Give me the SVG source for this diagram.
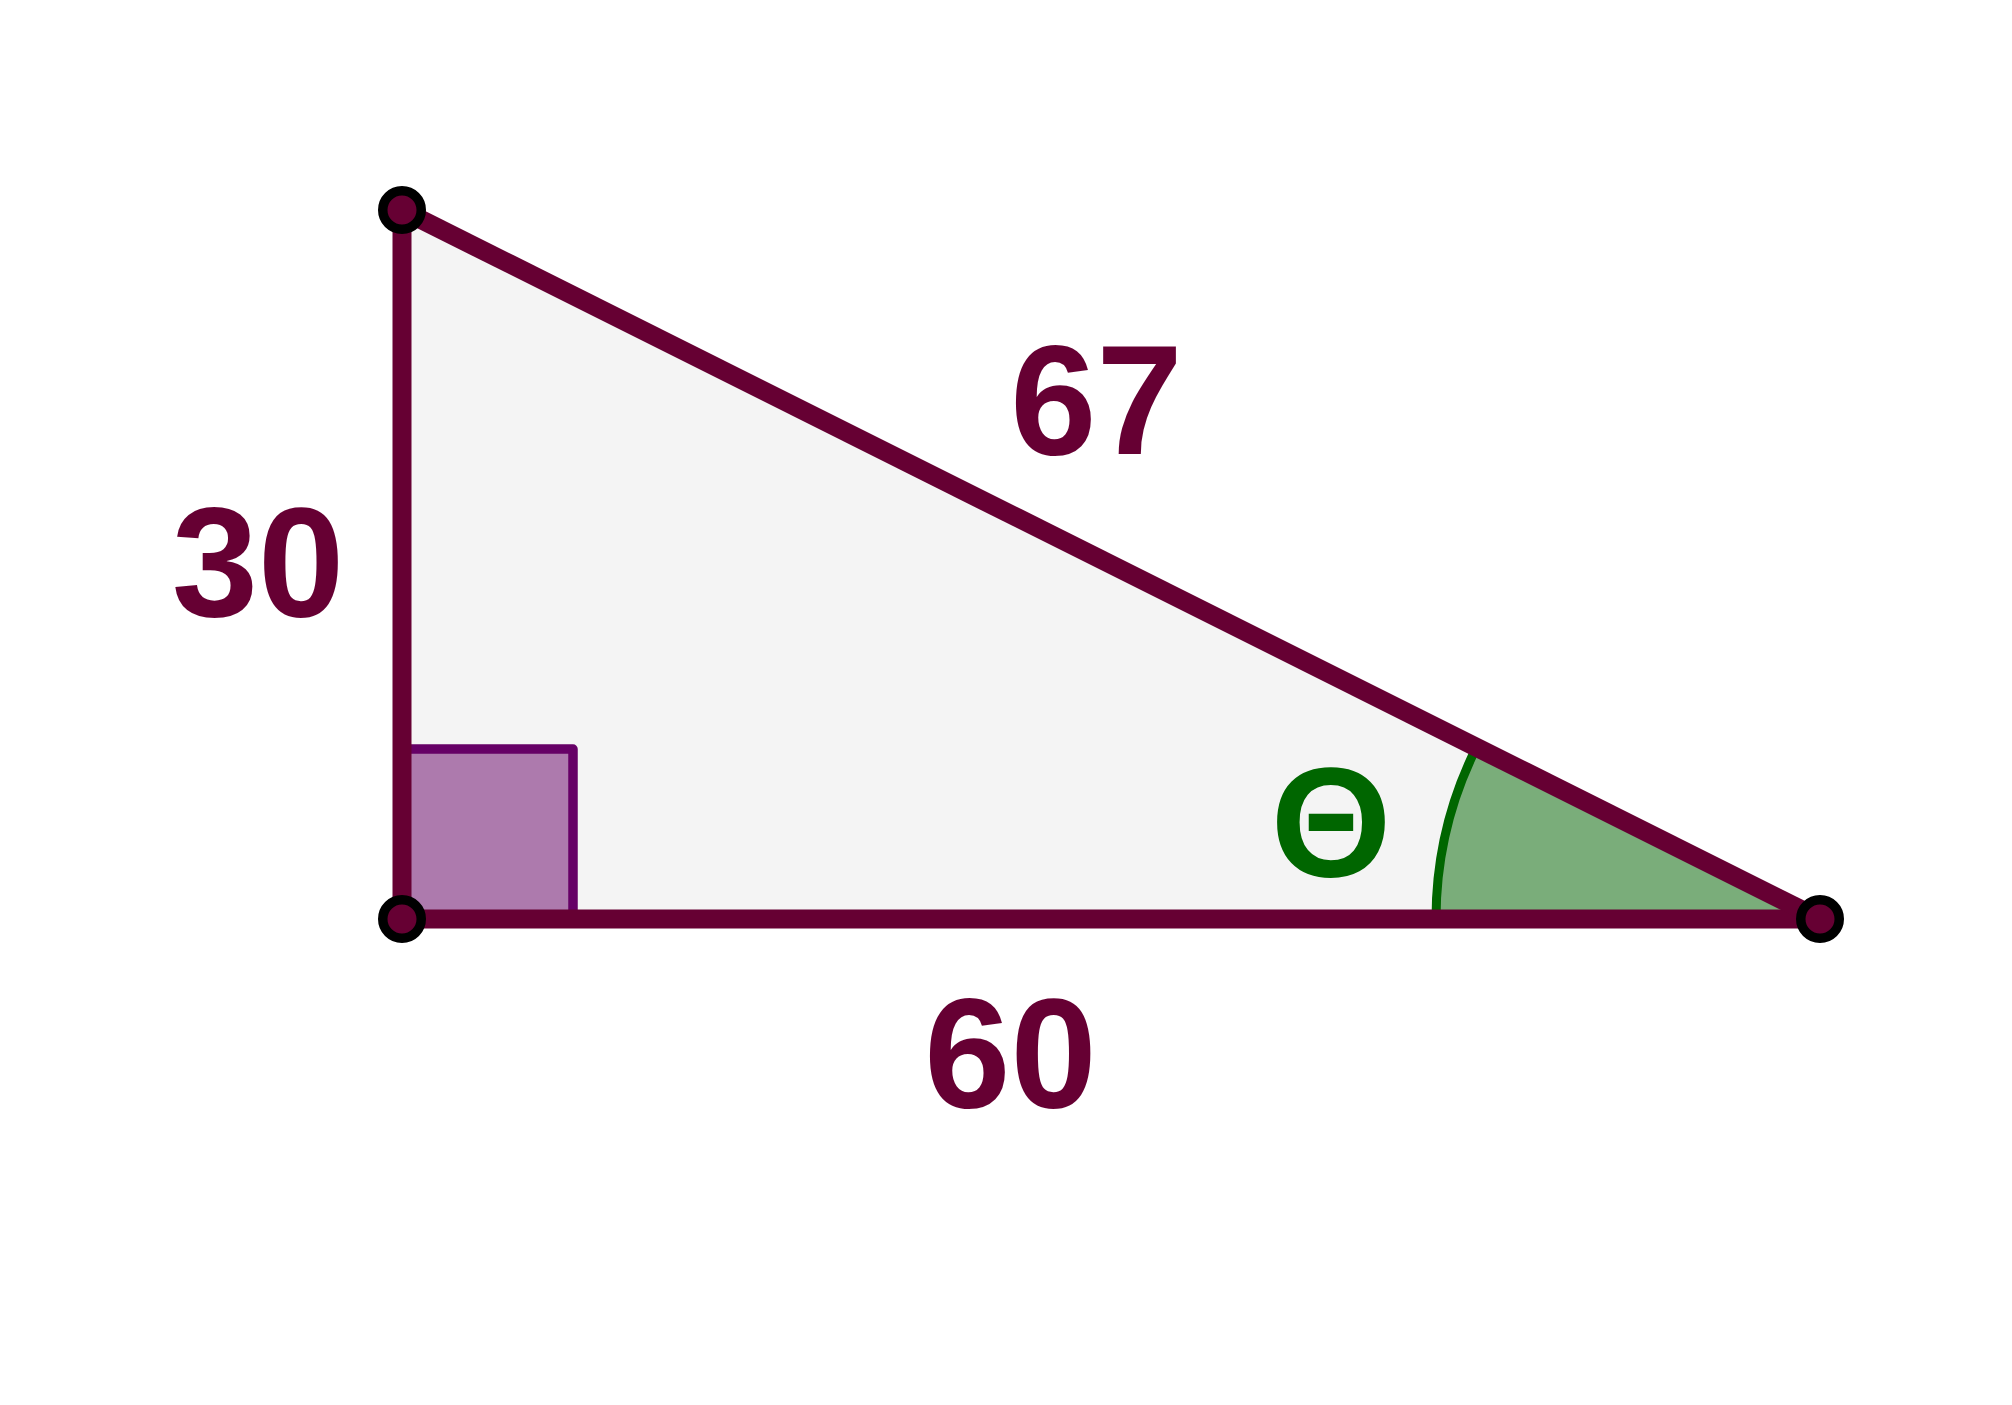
<svg xmlns="http://www.w3.org/2000/svg" width="2012" height="1405" viewBox="0 0 2012 1405">
<style>
.edge{stroke:#660033;stroke-width:19;stroke-linecap:round;fill:none}
.pt{fill:#660033;stroke:#000;stroke-width:9.5}
.lbl{font-family:"Liberation Sans",Arial,sans-serif;font-weight:bold;font-size:155px;fill:#660033;text-anchor:middle}
</style>
<rect width="2012" height="1405" fill="#fff"/>
<g id="triangle">
<polygon points="402,210 402,919 1820,919" fill="#f4f4f4"/>
</g>
<g id="right-angle">
<rect x="402" y="749" width="171" height="170" fill="#ad7aad"/>
<path d="M402,749 L573,749 L573,919" fill="none" stroke="#660066" stroke-width="9.5" stroke-linejoin="round"/>
</g>
<g id="angle-theta">
<path d="M1820,919 L1436,919 A384,384 0 0 1 1476.5,747.3 Z" fill="#7aad7a"/>
<path d="M1436,919 A384,384 0 0 1 1476.5,747.3" fill="none" stroke="#006600" stroke-width="9"/>
<text x="1331" y="876" class="lbl" style="fill:#006600">Θ</text>
</g>
<g id="connectors">
<line class="edge" x1="402" y1="210" x2="402" y2="919"/>
<line class="edge" x1="402" y1="919" x2="1820" y2="919"/>
<line class="edge" x1="402" y1="210" x2="1820" y2="919"/>
</g>
<g id="A"><circle class="pt" cx="402" cy="210" r="19.25"/></g>
<g id="B"><circle class="pt" cx="402" cy="919" r="19.25"/></g>
<g id="C"><circle class="pt" cx="1820" cy="919" r="19.25"/></g>
<g id="labels">
<text class="lbl" x="1096.5" y="454">67</text>
<text class="lbl" x="258" y="616">30</text>
<text class="lbl" x="1010.5" y="1107">60</text>
</g>
</svg>
